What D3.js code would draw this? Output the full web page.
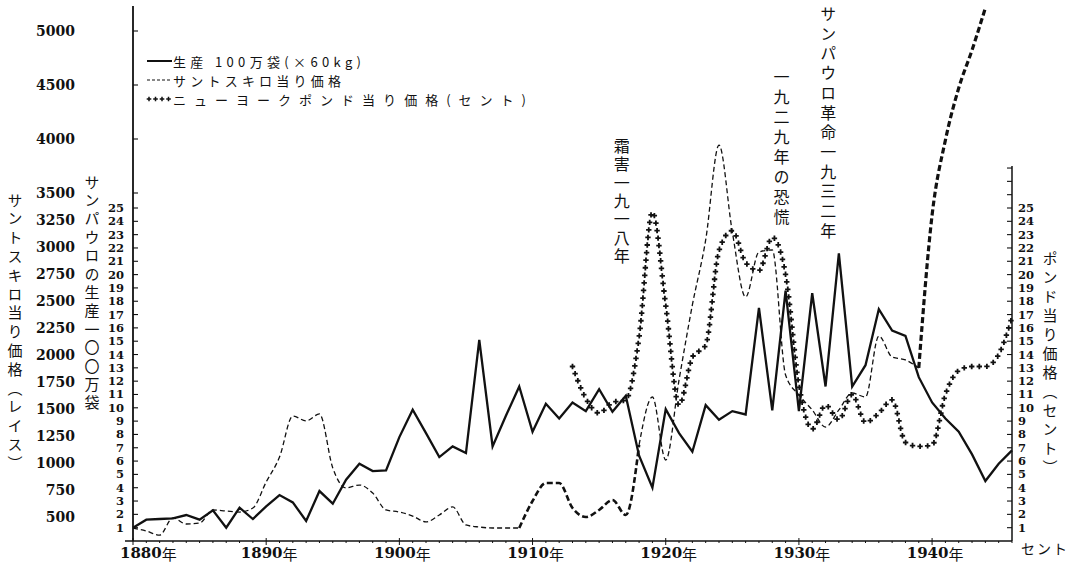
<!DOCTYPE html>
<html><head><meta charset="utf-8">
<script src="https://cdn.jsdelivr.net/npm/d3@7"></script>
<style>body{margin:0;background:#fff} svg{display:block}</style>
</head><body>
<svg id="c" width="1073" height="567"></svg>
<script>
// ---------- DATA ----------
const prodYears = [1880,1881,1882,1883,1884,1885,1886,1887,1888,1889,1890,1891,1892,1893,1894,1895,1896,1897,1898,1899,1900,1901,1902,1903,1904,1905,1906,1907,1908,1909,1910,1911,1912,1913,1914,1915,1916,1917,1918,1919,1920,1921,1922,1923,1924,1925,1926,1927,1928,1929,1930,1931,1932,1933,1934,1935,1936,1937,1938,1939,1940,1941,1942,1943,1944,1945,1946];
// São Paulo production, million bags
const production = [1.0,1.6,1.65,1.7,1.95,1.6,2.3,1.0,2.5,1.65,2.6,3.45,2.9,1.5,3.75,2.8,4.6,5.8,5.25,5.3,7.8,9.85,8.1,6.3,7.1,6.6,15.1,7.1,9.4,11.6,8.2,10.3,9.2,10.4,9.75,11.4,9.7,10.9,6.4,4.0,9.9,8.1,6.7,10.2,9.1,9.75,9.5,17.5,9.8,18.8,9.75,18.6,11.6,21.6,11.6,13.2,17.4,15.8,15.4,12.3,10.4,9.2,8.2,6.5,4.5,5.8,6.8];

const santosYears = [1880,1881,1882,1883,1884,1885,1886,1887,1888,1889,1890,1891,1892,1893,1894,1895,1896,1897,1898,1899,1900,1901,1902,1903,1904,1905,1906,1907,1908,1909,1910,1911,1912,1913,1914,1915,1916,1917,1918,1919,1920,1921,1922,1923,1924,1925,1926,1927,1928,1929,1930,1931,1932,1933,1934,1935,1936,1937,1938,1939,1940,1941,1942,1943,1944];
// Santos price per kg, reis
const santosPrice = [398,370,333,491,435,444,565,555,546,583,824,1055,1435,1390,1454,954,769,796,722,565,546,509,454,519,593,426,407,398,398,398,648,815,815,583,500,565,657,519,1167,1611,1028,1769,2463,3065,3944,3139,2537,2954,2972,1815,1630,1491,1333,1491,1648,1611,2176,1981,1954,1880,3296,3990,4472,4824,5213];

const nyYears = [1913,1914,1915,1916,1917,1918,1919,1920,1921,1922,1923,1924,1925,1926,1927,1928,1929,1930,1931,1932,1933,1934,1935,1936,1937,1938,1939,1940,1941,1942,1943,1944,1945,1946];
// New York price per pound, cents
const nyPrice = [13.1,10.7,9.6,10.4,10.6,15.3,24.7,17.7,10.2,13.8,14.7,21.8,23.3,20.9,20.3,22.8,20.0,11.7,8.4,10.2,9.1,11.0,8.9,9.6,10.6,7.4,7.1,7.2,11.0,12.8,13.1,13.1,14.0,16.8];

const yearTicks = [1880,1890,1900,1910,1920,1930,1940];
const reisTicks = [500,750,1000,1250,1500,1750,2000,2250,2500,2750,3000,3250,3500,4000,4500,5000];
const unitTicks = [1,2,3,4,5,6,7,8,9,10,11,12,13,14,15,16,17,18,19,20,21,22,23,24,25];
const rightExtraTicks = [26,27,28];

const legendLabels = ["生産 100万袋(×60kg)","サントスキロ当り価格","ニューヨークポンド当り価格(セント)"];
const titleReis = "サントスキロ当り価格（レイス）";
const titleProd = "サンパウロの生産一〇〇万袋";
const titleCents = "ポンド当り価格（セント）";
const notes = [
  {text:"霜害一九一八年", year:1916.7},
  {text:"一九二九年の恐慌", year:1928.7},
  {text:"サンパウロ革命一九三二年", year:1932.2}
];

// ---------- SCALES ----------
const svg = d3.select("#c");
const x = d3.scaleLinear().domain([1880,1946]).range([133,1012]);
const yU = d3.scaleLinear().domain([0,25]).range([541,208]);     // production & cents
const yR = d3.scaleLinear().domain([500,5000]).range([517,31]);   // reis

const numFont = "'DejaVu Serif', 'Liberation Serif', serif";
const jpFont = "'Noto Sans CJK JP', sans-serif";

// ---------- AXES ----------
const axisG = svg.append("g").attr("stroke","#111").attr("fill","none");
axisG.append("line").attr("x1",x(1880)).attr("x2",x(1880)).attr("y1",6).attr("y2",yU(0)).attr("stroke-width",1.8);
unitTicks.forEach(v=>axisG.append("line").attr("x1",x(1880)).attr("x2",x(1880)+5).attr("y1",yU(v)).attr("y2",yU(v)).attr("stroke-width",1.1));
[3500,4000,4500,5000].forEach(v=>axisG.append("line").attr("x1",x(1880)).attr("x2",x(1880)+5).attr("y1",yR(v)).attr("y2",yR(v)).attr("stroke-width",1.1));
axisG.append("line").attr("x1",x(1946)).attr("x2",x(1946)).attr("y1",166).attr("y2",yU(0)).attr("stroke-width",1.5);
unitTicks.concat(rightExtraTicks).forEach(v=>axisG.append("line").attr("x1",x(1946)-5).attr("x2",x(1946)).attr("y1",yU(v)).attr("y2",yU(v)).attr("stroke-width",1.1));
axisG.append("line").attr("x1",x(1880)-8).attr("x2",x(1946)).attr("y1",yU(0)).attr("y2",yU(0)).attr("stroke-width",1.4);
d3.range(1880,1947).forEach(yr=>{
  const big = yr%10===0;
  axisG.append("line").attr("x1",x(yr)).attr("x2",x(yr)).attr("y1",yU(0)-(big?3:0)).attr("y2",yU(0)+(big?4:2)).attr("stroke-width",1);
});

// tick labels
const lab = svg.append("g").attr("fill","#111");
reisTicks.forEach(v=>lab.append("text").attr("x",75).attr("y",yR(v)).attr("text-anchor","end").attr("dominant-baseline","central")
  .style("font-family",numFont).style("font-weight","bold").style("font-size","14px").text(v));
unitTicks.forEach(v=>lab.append("text").attr("x",124).attr("y",yU(v)).attr("text-anchor","end").attr("dominant-baseline","central")
  .style("font-family",numFont).style("font-weight","bold").style("font-size","11.5px").text(v));
unitTicks.forEach(v=>lab.append("text").attr("x",1018).attr("y",yU(v)).attr("text-anchor","start").attr("dominant-baseline","central")
  .style("font-family",numFont).style("font-weight","bold").style("font-size","11.5px").text(v));
lab.append("text").attr("x",1021).attr("y",548).attr("dominant-baseline","central").style("font-family",jpFont).style("font-size","14px").attr("letter-spacing",2).text("セント");
yearTicks.forEach((yr,i)=>{
  const t = lab.append("text").attr("y",553).attr("dominant-baseline","central").style("font-family",numFont).style("font-weight","bold").style("font-size","15px");
  if(i===0){ t.attr("x",x(yr)-13).attr("text-anchor","start"); } else { t.attr("x",x(yr)+3).attr("text-anchor","middle"); }
  t.append("tspan").text(yr);
  t.append("tspan").style("font-family",jpFont).style("font-weight","normal").text("年");
});

// vertical text helper: one vertical-mode text per character
function vtext(str, cx, cyFirst, pitch, size){
  const g = svg.append("g").attr("fill","#111").style("font-family",jpFont).style("font-size",size+"px");
  Array.from(str).forEach((ch,i)=>{
    g.append("text").attr("x",cx).attr("y",cyFirst + i*pitch - size/2)
      .style("writing-mode","vertical-rl").text(ch);
  });
}
vtext(titleReis, 15, 200, 18.8, 15);
vtext(titleProd, 92, 182, 18.4, 15);
vtext(titleCents, 1050, 258, 19, 15);
vtext(notes[0].text, x(notes[0].year), 146, 18.3, 16);
vtext(notes[1].text, x(notes[1].year), 77, 20, 16);
vtext(notes[2].text, x(notes[2].year), 14, 19.7, 16);

// ---------- SERIES ----------
const prodData = prodYears.map((yr,i)=>({yr, v:production[i]}));
const santosData = santosYears.map((yr,i)=>({yr, v:santosPrice[i]}));
const nyData = nyYears.map((yr,i)=>({yr, v:nyPrice[i]}));

svg.append("defs").append("clipPath").attr("id","clip").append("rect").attr("x",0).attr("y",0).attr("width",1073).attr("height",567);

const lineS = d3.line().x(d=>x(d.yr)).y(d=>yR(d.v)).curve(d3.curveMonotoneX);
const segs = [
  {from:1880,to:1909,w:1.3,dash:"5,3"},
  {from:1909,to:1918,w:2.6,dash:"6,3"},
  {from:1918,to:1939,w:1.3,dash:"5,3"},
  {from:1939,to:1944,w:3.2,dash:"6,3"}
];
segs.forEach(s=>{
  svg.append("path").attr("clip-path","url(#clip)").attr("d",lineS(santosData.filter(d=>d.yr>=s.from&&d.yr<=s.to)))
    .attr("fill","none").attr("stroke","#111").attr("stroke-width",s.w).attr("stroke-dasharray",s.dash);
});

const lineP = d3.line().x(d=>x(d.yr)).y(d=>yU(d.v));
svg.append("path").attr("d",lineP(prodData)).attr("fill","none").attr("stroke","#111").attr("stroke-width",2.3).attr("stroke-linejoin","miter");

const lineN = d3.line().x(d=>x(d.yr)).y(d=>yU(d.v)).curve(d3.curveMonotoneX);
const hidden = svg.append("path").attr("d",lineN(nyData)).attr("fill","none").attr("stroke","none");
const node = hidden.node();
const L = node.getTotalLength();
let pd = "";
for(let s=0; s<=L; s+=7.6){
  const p = node.getPointAtLength(s);
  pd += `M${p.x-2.7},${p.y}H${p.x+2.7}M${p.x},${p.y-2.7}V${p.y+2.7}`;
}
svg.append("path").attr("d",pd).attr("stroke","#111").attr("stroke-width",1.8).attr("fill","none");

// ---------- LEGEND ----------
const lg = svg.append("g");
const ly = [61,80,99];
lg.append("line").attr("x1",147).attr("x2",172).attr("y1",ly[0]).attr("y2",ly[0]).attr("stroke","#111").attr("stroke-width",2);
lg.append("line").attr("x1",147).attr("x2",172).attr("y1",ly[1]).attr("y2",ly[1]).attr("stroke","#111").attr("stroke-width",1.2).attr("stroke-dasharray","3,2");
let lp="";
[149,155.5,162,168.5].forEach(px=>{lp+=`M${px-2.3},${ly[2]}H${px+2.3}M${px},${ly[2]-2.3}V${ly[2]+2.3}`;});
lg.append("path").attr("d",lp).attr("stroke","#111").attr("stroke-width",1.5);
const lw = [188,168,353];
legendLabels.forEach((t,i)=>{
  lg.append("text").attr("x",173).attr("y",ly[i]).attr("dominant-baseline","central").attr("textLength",lw[i]).attr("lengthAdjust","spacing")
    .style("font-family",jpFont).style("font-size","13px").attr("fill","#111").text(t);
});
</script>
</body></html>
